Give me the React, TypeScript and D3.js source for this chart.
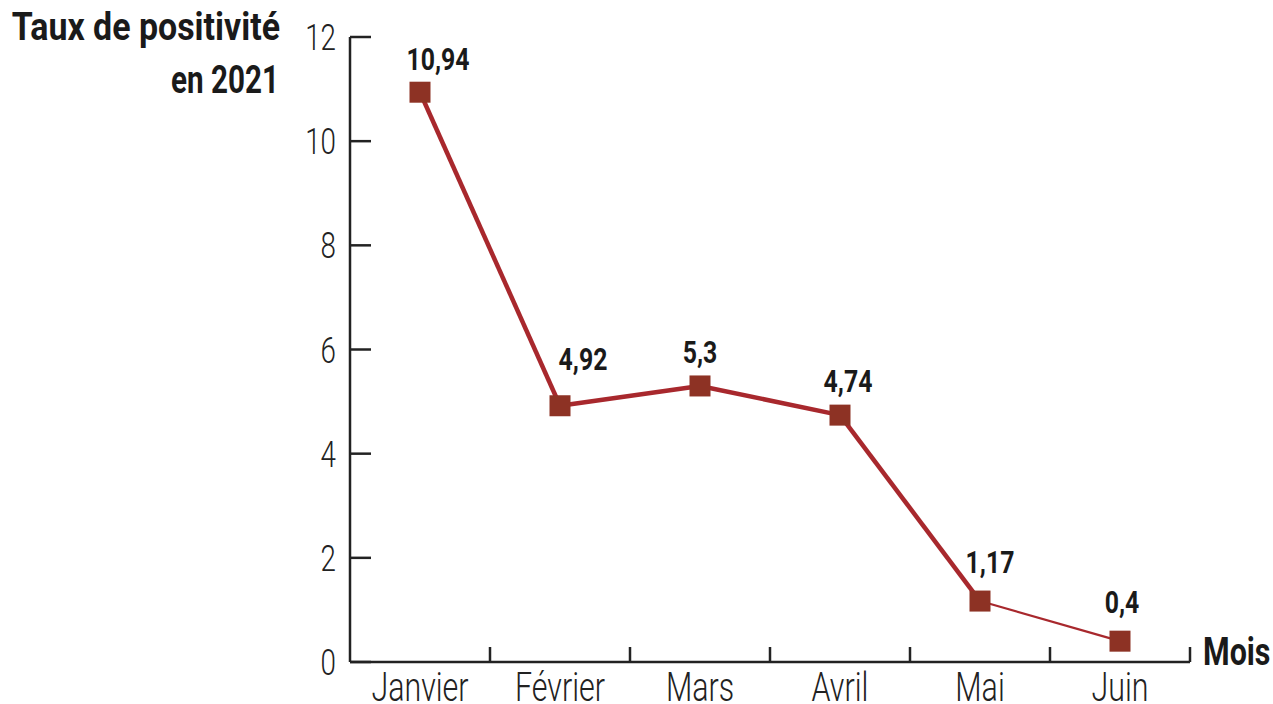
import React from "react";
import * as d3 from "d3";

const months = ["Janvier", "Février", "Mars", "Avril", "Mai", "Juin"];
const rates = [10.94, 4.92, 5.3, 4.74, 1.17, 0.4];
const rateLabels = ["10,94", "4,92", "5,3", "4,74", "1,17", "0,4"];
const yTicks = [0, 2, 4, 6, 8, 10, 12];
const labelDx = [18, 23, 0, 8, 10, 2];
const labelDy = [-22, -36, -23, -23, -28, -28];
const segmentWidths = [4.5, 4.5, 4.5, 4.5, 2.2];

const FONT = "Roboto, 'Noto Sans', sans-serif";

type CTProps = {
  x: number; y: number; sx: number; anchor?: string; size: number; weight?: number | string;
  fill?: string; children: React.ReactNode;
};
function CText({ x, y, sx, anchor = "start", size, weight = 400, fill = "#222", children }: CTProps) {
  return (
    <text transform={`translate(${x},${y}) scale(${sx},1)`} textAnchor={anchor} fontSize={size}
      fontWeight={weight} fill={fill}>{children}</text>
  );
}

export default function App() {
  const W = 1273, H = 704;
  const x0 = 350, x1 = 1190, yTop = 37, yBot = 662;
  const x = d3.scaleBand<string>().domain(months).range([x0, x1]);
  const y = d3.scaleLinear().domain([0, 12]).range([yBot, yTop]);
  const cx = (m: string) => (x(m) as number) + x.bandwidth() / 2;
  const lineColor = "#a8282d";
  const markColor = "#8d3224";
  const axisColor = "#222";
  const boundaries = [...months.map((m) => x(m) as number), x1];

  return (
    <svg width={W} height={H} style={{ position: "absolute", left: 0, top: 0, background: "#fff" }}>
      <g fontFamily={FONT}>
        <CText x={280} y={40} sx={0.87} anchor="end" weight={700} size={39} fill="#1a1a1a">Taux de positivité</CText>
        <CText x={279} y={93} sx={0.76} anchor="end" weight={700} size={39} fill="#1a1a1a">en 2021</CText>

        {/* y axis */}
        <line x1={x0} x2={x0} y1={yTop} y2={yBot} stroke={axisColor} strokeWidth={2.5} />
        {yTicks.map((t) => (
          <g key={t}>
            <line x1={x0} x2={x0 + 21} y1={y(t)} y2={y(t)} stroke={axisColor} strokeWidth={2.5} />
            <CText x={336} y={y(t) + 13} sx={0.75} anchor="end" size={37} weight={300}>{t}</CText>
          </g>
        ))}

        {/* x axis */}
        <line x1={x0} x2={x1} y1={yBot} y2={yBot} stroke={axisColor} strokeWidth={2.5} />
        {boundaries.slice(1).map((b, i) => (
          <line key={i} x1={b} x2={b} y1={yBot - 15} y2={yBot} stroke={axisColor} strokeWidth={2.5} />
        ))}
        {months.map((m) => (
          <CText key={m} x={cx(m)} y={701} sx={0.76} anchor="middle" size={40} weight={300}>{m}</CText>
        ))}
        <CText x={1203} y={665} sx={0.78} weight={700} size={39} fill="#1a1a1a">Mois</CText>

        {/* line */}
        {rates.slice(0, -1).map((v, i) => (
          <line key={i} x1={cx(months[i])} y1={y(v)} x2={cx(months[i + 1])} y2={y(rates[i + 1])}
            stroke={lineColor} strokeWidth={segmentWidths[i]} />
        ))}
        {rates.map((v, i) => (
          <rect key={i} x={cx(months[i]) - 10.5} y={y(v) - 10.5} width={21} height={21} fill={markColor} />
        ))}
        {rates.map((v, i) => (
          <CText key={i} x={cx(months[i]) + labelDx[i]} y={y(v) + labelDy[i]} sx={0.8} anchor="middle"
            weight={700} size={31} fill="#1a1a1a">{rateLabels[i]}</CText>
        ))}
      </g>
    </svg>
  );
}
